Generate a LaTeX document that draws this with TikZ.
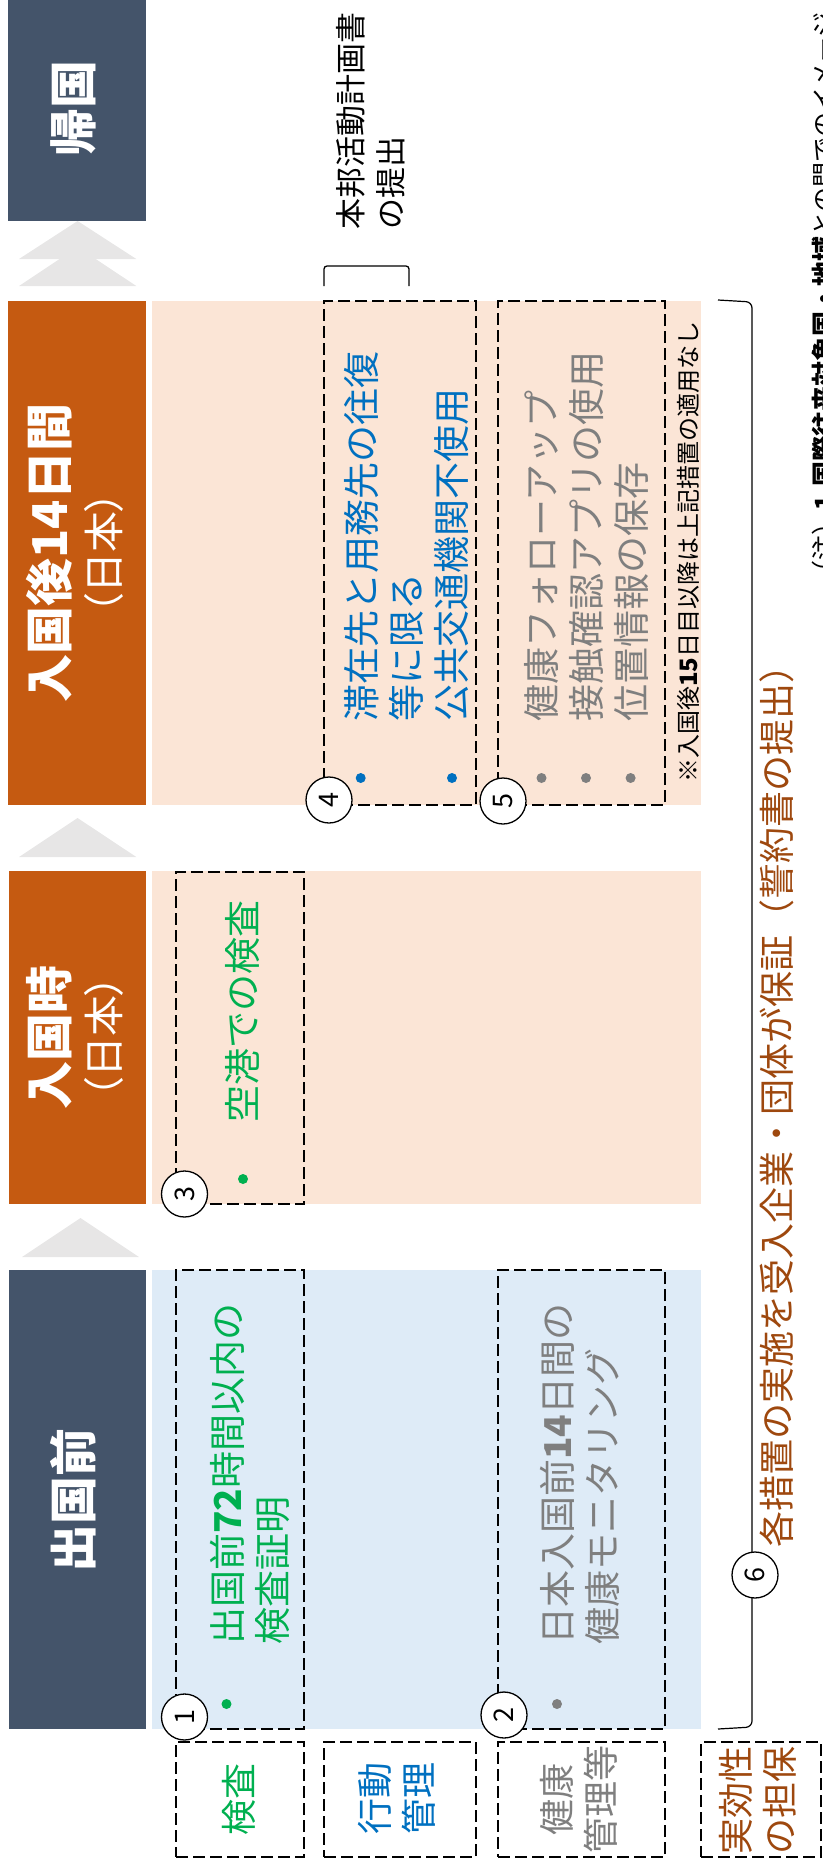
\documentclass[tikz,border=0pt]{standalone}
\usepackage{fontspec}
\setmainfont{Noto Sans CJK JP}
\newfontfamily\proptext[RawFeature=+palt]{Noto Sans CJK JP}
\definecolor{slate}{HTML}{44546A}
\definecolor{orng}{HTML}{C55A11}
\definecolor{peach}{HTML}{FBE5D6}
\definecolor{lblue}{HTML}{DEEBF7}
\definecolor{chev}{HTML}{E7E6E6}
\definecolor{tgreen}{HTML}{00B050}
\definecolor{tblue}{HTML}{0070C0}
\definecolor{tgray}{HTML}{7F7F7F}
\definecolor{tbrown}{HTML}{9E480E}
\begin{document}
\begin{tikzpicture}[x=1pt,y=1pt,
  bar/.style={rotate=90, inner sep=0, draw=none},
  band/.style={inner sep=0, draw=none},
  dbox/.style={draw=black, dash pattern=on 12pt off 5pt, line width=1.8pt, inner sep=0, fill=none},
  hdrtxt/.style={rotate=90, inner sep=0, text=white, font=\fontsize{48}{52}\selectfont\bfseries},
  subtxt/.style={rotate=90, inner sep=0, text=white, font=\proptext\fontsize{41}{44}\selectfont},
  item/.style={rotate=90, inner sep=0, anchor=west, align=left, font=\fontsize{37}{45}\selectfont},
  lbl/.style={rotate=90, inner sep=0, align=center, font=\fontsize{36}{44}\selectfont},
  numc/.style={circle, draw=black, fill=white, line width=1.3pt, minimum size=46pt, inner sep=0, rotate=90, font=\fontsize{27}{27}\selectfont},
  bul/.style={circle, inner sep=0, minimum size=10pt, draw=none}
]
\useasboundingbox (0,0) rectangle (822,-1868);

% header bars
\node[bar, fill=slate, minimum width=221pt, minimum height=138pt] (barKikoku) at (77,-110.5) {};
\node[bar, fill=orng, minimum width=504pt, minimum height=138pt] (barAfter) at (77,-553) {};
\node[bar, fill=orng, minimum width=333pt, minimum height=137pt] (barEntry) at (77.5,-1037.5) {};
\node[bar, fill=slate, minimum width=459pt, minimum height=137pt] (barBefore) at (77.5,-1499.5) {};

% chevrons
\fill[chev] (19,-259) -- (77.6,-221) -- (136.3,-259) -- cycle;
\fill[chev] (19,-286) -- (77.6,-247) -- (136.3,-286) -- cycle;
\fill[chev] (19,-857) -- (77.6,-818) -- (136.3,-857) -- cycle;
\fill[chev] (22,-1257) -- (80.5,-1218) -- (139,-1257) -- cycle;

% bands
\node[band, fill=peach, minimum width=549pt, minimum height=504pt] (bandAfter) at (426.5,-553) {};
\node[band, fill=peach, minimum width=549pt, minimum height=333pt] (bandEntry) at (426.5,-1037.5) {};
\node[band, fill=lblue, minimum width=549pt, minimum height=459pt] (bandBefore) at (426.5,-1499.5) {};

% header texts
\node[hdrtxt] (tKikoku) at (73,-108) {帰国};
\node[hdrtxt] (tAfter) at (49,-553) {入国後14日間};
\node[subtxt] (tAfterSub) at (104,-553) {（日本）};
\node[hdrtxt] (tEntry) at (49,-1037) {入国時};
\node[subtxt] (tEntrySub) at (104,-1037) {（日本）};
\node[hdrtxt] (tBefore) at (73,-1500) {出国前};

% dashed boxes
\node[dbox, minimum width=128pt, minimum height=459pt] (box1) at (240,-1499.5) {};
\node[dbox, minimum width=167pt, minimum height=459pt] (box2) at (581.5,-1499.5) {};
\node[dbox, minimum width=128pt, minimum height=332pt] (box3) at (240,-1038) {};
\node[dbox, minimum width=152pt, minimum height=504pt] (box4) at (400,-553) {};
\node[dbox, minimum width=167pt, minimum height=504pt] (box5) at (581.5,-553) {};

% row label boxes
\node[dbox, minimum width=128pt, minimum height=115pt] (lab1) at (240,-1799.5) {};
\node[dbox, minimum width=152pt, minimum height=115pt] (lab2) at (400,-1799.5) {};
\node[dbox, minimum width=167pt, minimum height=115pt] (lab3) at (581.5,-1799.5) {};
\node[dbox, minimum width=120pt, minimum height=115pt] (lab4) at (761,-1799.5) {};

\node[lbl, text=tgreen] (lab1t) at (238.5,-1799) {検査};
\node[lbl, text=tblue] (lab2t) at (397,-1798) {行動\\管理};
\node[lbl, text=tgray] (lab3t) at (578.5,-1799) {健康\\管理等};
\node[lbl, text=tbrown] (lab4t) at (758,-1800) {実効性\\の担保};

% bullets
\node[bul, fill=tgreen] (b1) at (226.5,-1704) {};
\node[bul, fill=tgray] (b2) at (557,-1704) {};
\node[bul, fill=tgreen] (b3) at (243,-1179) {};
\node[bul, fill=tblue] (b4a) at (360.7,-778) {};
\node[bul, fill=tblue] (b4b) at (452,-778) {};
\node[bul, fill=tgray] (b5a) at (541.5,-778) {};
\node[bul, fill=tgray] (b5b) at (586,-778) {};
\node[bul, fill=tgray] (b5c) at (630.6,-778) {};

% item texts
\node[item, text=tgreen] (t1) at (249.75,-1645) {出国前\textbf{72}時間以内の\\検査証明};
\node[item, text=tgray] (t2) at (580,-1645) {日本入国前\textbf{14}日間の\\健康モニタリング};
\node[item, text=tgreen] (t3) at (243,-1123) {空港での検査};
\node[item, text=tblue] (t4) at (406,-722) {滞在先と用務先の往復\\等に限る\\公共交通機関不使用};
\node[item, text=tgray] (t5) at (586,-722) {健康フォローアップ\\接触確認アプリの使用\\位置情報の保存};
\node[rotate=90, inner sep=0, anchor=west, font=\fontsize{24}{24}\selectfont] (note) at (688,-783) {※入国後\textbf{15}日目以降は上記措置の適用なし};

% plan submission
\draw[line width=1.3pt, rounded corners=3pt] (324,-286) -- (324,-266) -- (409,-266) -- (409,-286);
\node[rotate=90, inner sep=0, anchor=west, align=left, font=\fontsize{31}{39.5}\selectfont] (plan) at (370.75,-230) {本邦活動計画書\\の提出};

% bracket for item 6
\draw[line width=1.2pt, rounded corners=6pt] (718,-300) -- (752,-302) -- (752,-1727) -- (718,-1729);
\node[rotate=90, inner sep=0, anchor=west, text=tbrown, font=\fontsize{36}{36}\selectfont] (t6) at (777,-1548) {各措置の実施を受入企業・団体が保証（誓約書の提出）};

% numbered circles
\node[numc] (n1) at (184.5,-1717) {1};
\node[numc] (n2) at (504,-1715) {2};
\node[numc] (n3) at (184.5,-1194) {3};
\node[numc] (n4) at (329,-800) {4};
\node[numc] (n5) at (503,-801) {5};
\node[numc] (n6) at (755,-1575) {6};

% footnote (cut at the right edge)
\node[rotate=90, inner sep=0, anchor=west, font=\fontsize{25}{25}\selectfont] (fn) at (824,-586) {（注）\textbf{1.国際往来対象国・地域}との間でのイメージ};
\end{tikzpicture}
\end{document}
